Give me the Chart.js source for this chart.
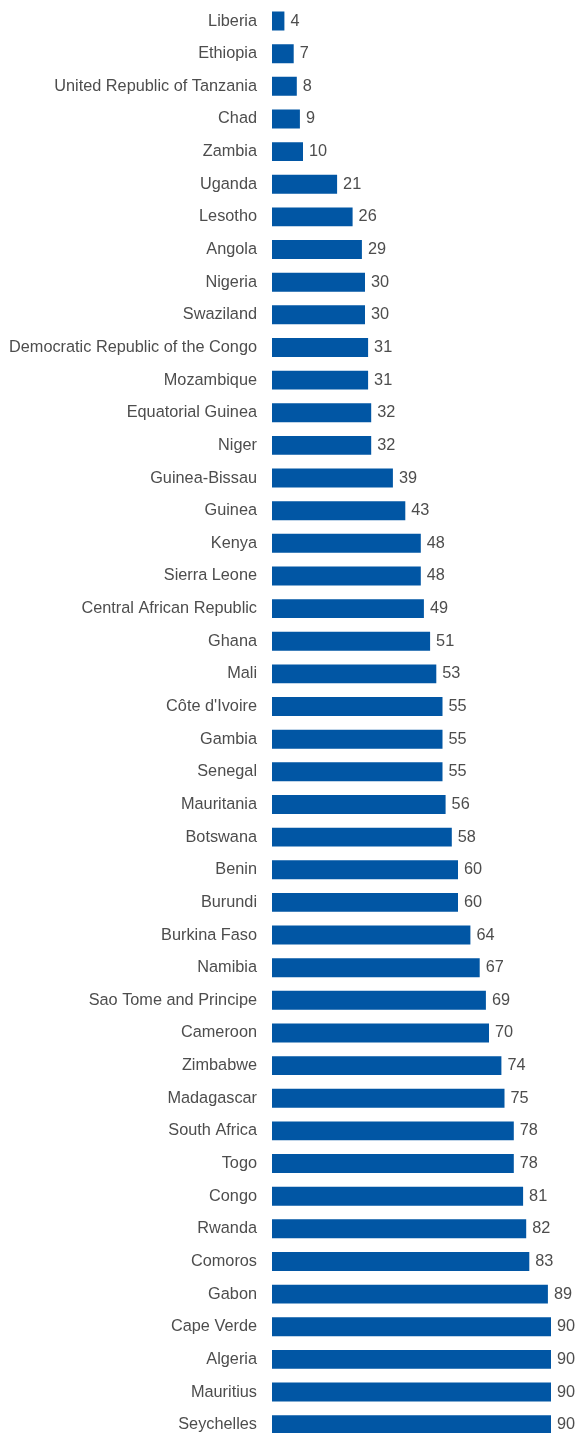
<!DOCTYPE html>
<html>
<head>
<meta charset="utf-8">
<script src="https://cdn.jsdelivr.net/npm/chart.js@4/dist/chart.umd.min.js"></script>
<style>
html,body{margin:0;padding:0;background:#fff;overflow:hidden;}
#wrap{position:relative;width:577px;height:1441px;}
</style>
</head>
<body>
<div id="wrap"><canvas id="c"></canvas></div>
<script>
const categories = ["Liberia","Ethiopia","United Republic of Tanzania","Chad","Zambia","Uganda","Lesotho","Angola","Nigeria","Swaziland","Democratic Republic of the Congo","Mozambique","Equatorial Guinea","Niger","Guinea-Bissau","Guinea","Kenya","Sierra Leone","Central African Republic","Ghana","Mali","Côte d'Ivoire","Gambia","Senegal","Mauritania","Botswana","Benin","Burundi","Burkina Faso","Namibia","Sao Tome and Principe","Cameroon","Zimbabwe","Madagascar","South Africa","Togo","Congo","Rwanda","Comoros","Gabon","Cape Verde","Algeria","Mauritius","Seychelles"];
const values = [4,7,8,9,10,21,26,29,30,30,31,31,32,32,39,43,48,48,49,51,53,55,55,55,56,58,60,60,64,67,69,70,74,75,78,78,81,82,83,89,90,90,90,90];

const FONT = '"Liberation Sans", Arial, sans-serif';

const valueLabels = {
  id: 'valueLabels',
  afterDatasetsDraw(chart) {
    const ctx = chart.ctx;
    const meta = chart.getDatasetMeta(0);
    ctx.save();
    ctx.font = '16.3px ' + FONT;
    ctx.fillStyle = '#4d4d4d';
    ctx.textAlign = 'left';
    ctx.textBaseline = 'middle';
    meta.data.forEach((bar, i) => {
      ctx.fillText(String(values[i]), bar.x + 6, bar.y);
    });
    ctx.restore();
  }
};

new Chart(document.getElementById('c'), {
  type: 'bar',
  data: {
    labels: categories,
    datasets: [{
      data: values,
      backgroundColor: '#0156a4',
      borderWidth: 0,
      barPercentage: 0.58,
      categoryPercentage: 1.0
    }]
  },
  options: {
    indexAxis: 'y',
    responsive: true,
    maintainAspectRatio: false,
    animation: false,
    layout: { padding: { top: 4.7, right: 26, bottom: 0, left: 0 } },
    plugins: { legend: { display: false }, tooltip: { enabled: false } },
    scales: {
      x: { display: false, min: 0, max: 90 },
      y: {
        grid: { display: false, drawTicks: false },
        border: { display: false },
        ticks: {
          padding: 15,
          color: '#4d4d4d',
          font: { family: FONT, size: 16.3 },
          autoSkip: false
        },
        afterFit(scale) {
          scale.width = 272;
          scale.paddingTop = 0;
          scale.paddingBottom = 0;
        }
      }
    }
  },
  plugins: [valueLabels]
});
</script>
</body>
</html>
